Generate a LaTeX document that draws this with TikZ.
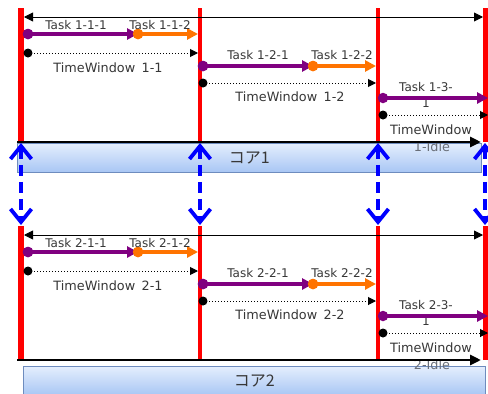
\documentclass[tikz,border=0pt]{standalone}
\usepackage{fontspec}
\setmainfont{DejaVu Sans}
\newfontfamily\cjk{Noto Sans CJK JP}
\usetikzlibrary{arrows.meta}
\definecolor{taskpurple}{RGB}{128,0,128}
\definecolor{taskorange}{RGB}{255,115,0}
\definecolor{boxtop}{RGB}{228,238,253}
\definecolor{boxbot}{RGB}{168,198,244}
\definecolor{boxedge}{RGB}{110,140,190}
\definecolor{txt}{RGB}{55,55,55}
\definecolor{idletxt}{RGB}{105,110,120}
\tikzset{
  barline/.style={red,line width=3.5pt},
  wbarline/.style={red,line width=6pt},
  taskA/.style={taskpurple,line width=3.4pt,-{Triangle[length=11pt,width=11pt]}},
  taskB/.style={taskorange,line width=3.4pt,-{Triangle[length=11pt,width=11pt]}},
  dotA/.style={circle,fill=taskpurple,inner sep=0pt,minimum size=10.5pt},
  dotB/.style={circle,fill=taskorange,inner sep=0pt,minimum size=10.5pt},
  wdot/.style={circle,fill=black,inner sep=0pt,minimum size=9pt},
  window/.style={black,line width=1pt,dash pattern=on 1pt off 2pt,-{Triangle[length=8pt,width=8pt]}},
  tasklbl/.style={font=\fontsize{12}{13}\selectfont,text=txt,inner sep=0pt},
  winlbl/.style={font=\fontsize{12.8}{14}\selectfont,text=txt,inner sep=0pt},
  span/.style={black,line width=0.9pt,{Triangle[length=9pt,width=9pt]}-{Triangle[length=9pt,width=9pt]}},
  base/.style={black,line width=2.8pt,-{Triangle[length=11pt,width=10pt]}},
  core/.style={draw=boxedge,line width=0.8pt,top color=boxtop,bottom color=boxbot},
  corelbl/.style={font=\cjk\fontsize{16}{17}\selectfont,text=txt},
  sync/.style={blue,line width=3.8pt,dash pattern=on 11pt off 6pt,{Straight Barb[length=13pt,width=21pt]}-{Straight Barb[length=13pt,width=21pt]}}
}
\begin{document}
\begin{tikzpicture}[x=1pt,y=-1pt]
\useasboundingbox (0,0) rectangle (488,394);
% ---------------- panels ----------------
\foreach \p/\dy/\bl/\br/\by in {1/0/17/481/143, 2/218/23/485/366}{
  \begin{scope}[yshift=-\dy pt]
    % coordinates
    \coordinate (r1t\p) at (21,8);   \coordinate (r1b\p) at (21,142);
    \coordinate (r2t\p) at (200,8);  \coordinate (r2b\p) at (200,142);
    \coordinate (r3t\p) at (378,8);  \coordinate (r3b\p) at (378,142);
    \coordinate (r4t\p) at (485,8);  \coordinate (r4b\p) at (485,142);
    \coordinate (sl\p) at (24,17);   \coordinate (sr\p) at (483,17);
    \coordinate (bl\p) at (17,142);  \coordinate (br\p) at (481,142);
    % text under later elements
    \node[tasklbl] (t13b\p) at (426,103) {1};
    % box
    \node[core,minimum width=\br pt-\bl pt,minimum height=29pt,anchor=north west,inner sep=0pt]
      (box\p) at (\bl,\by-\dy) {};
    \node[corelbl] (boxt\p) at (box\p.center) {コア\p};
    \node[winlbl,text=idletxt] (w13b\p) at (432,147) {\p-Idle};
    % red timeline bars
    \draw[wbarline] (r1t\p) -- (r1b\p);
    \draw[barline] (r2t\p) -- (r2b\p);
    \draw[barline] (r3t\p) -- (r3b\p);
    \draw[red,line width=5pt] (r4t\p) -- (r4b\p);
    % span arrow
    \draw[span] (sl\p) -- (sr\p);
    % window 1
    \node[dotA] (a11\p) at (28,34) {};
    \node[dotB] (a12\p) at (138,34) {};
    \coordinate (a1e\p) at (198,34);
    \draw[taskB] (a12\p.center) -- (a1e\p);
    \draw[taskA] (a11\p.center) -- (a12\p.center);
    \node[dotA] at (28,34) {};
    \node[dotB] at (138,34) {};
    \node[tasklbl] (l111\p) at (76,25) {Task \p-1-1};
    \node[tasklbl] (l112\p) at (160,25) {Task \p-1-2};
    \node[wdot] (w1s\p) at (28,53) {};
    \coordinate (w1e\p) at (198,53);
    \draw[window] (w1s\p.center) -- (w1e\p);
    \node[winlbl] (lw1\p) at (108,68) {TimeWindow\hspace{0.5em}\p-1};
    % window 2
    \node[dotA] (a21\p) at (203,66) {};
    \node[dotB] (a22\p) at (313,66) {};
    \coordinate (a2e\p) at (376,66);
    \draw[taskB] (a22\p.center) -- (a2e\p);
    \draw[taskA] (a21\p.center) -- (a22\p.center);
    \node[dotA] at (203,66) {};
    \node[dotB] at (313,66) {};
    \node[tasklbl] (l121\p) at (258,55) {Task \p-2-1};
    \node[tasklbl] (l122\p) at (342,55) {Task \p-2-2};
    \node[wdot] (w2s\p) at (203,83) {};
    \coordinate (w2e\p) at (376,83);
    \draw[window] (w2s\p.center) -- (w2e\p);
    \node[winlbl] (lw2\p) at (290,97) {TimeWindow\hspace{0.5em}\p-2};
    % window 3 (idle)
    \node[dotA] (a31\p) at (383,98) {};
    \coordinate (a3e\p) at (488,98);
    \draw[taskA] (a31\p.center) -- (a3e\p);
    \node[tasklbl] (l131\p) at (426,87) {Task \p-3-};
    \node[wdot] (w3s\p) at (383,115) {};
    \coordinate (w3e\p) at (488,115);
    \draw[window] (w3s\p.center) -- (w3e\p);
    \node[winlbl] (lw3\p) at (431,130) {TimeWindow};
    % base arrow
    \draw[base] (bl\p) -- (br\p);
  \end{scope}
}
% ---------------- synchronisation arrows ----------------
\foreach \i/\x in {1/21,2/200,3/378,4/485}{
  \coordinate (su\i) at (\x,143);
  \coordinate (sd\i) at (\x,225);
  \draw[sync] (su\i) -- (sd\i);
}
\end{tikzpicture}
\end{document}
